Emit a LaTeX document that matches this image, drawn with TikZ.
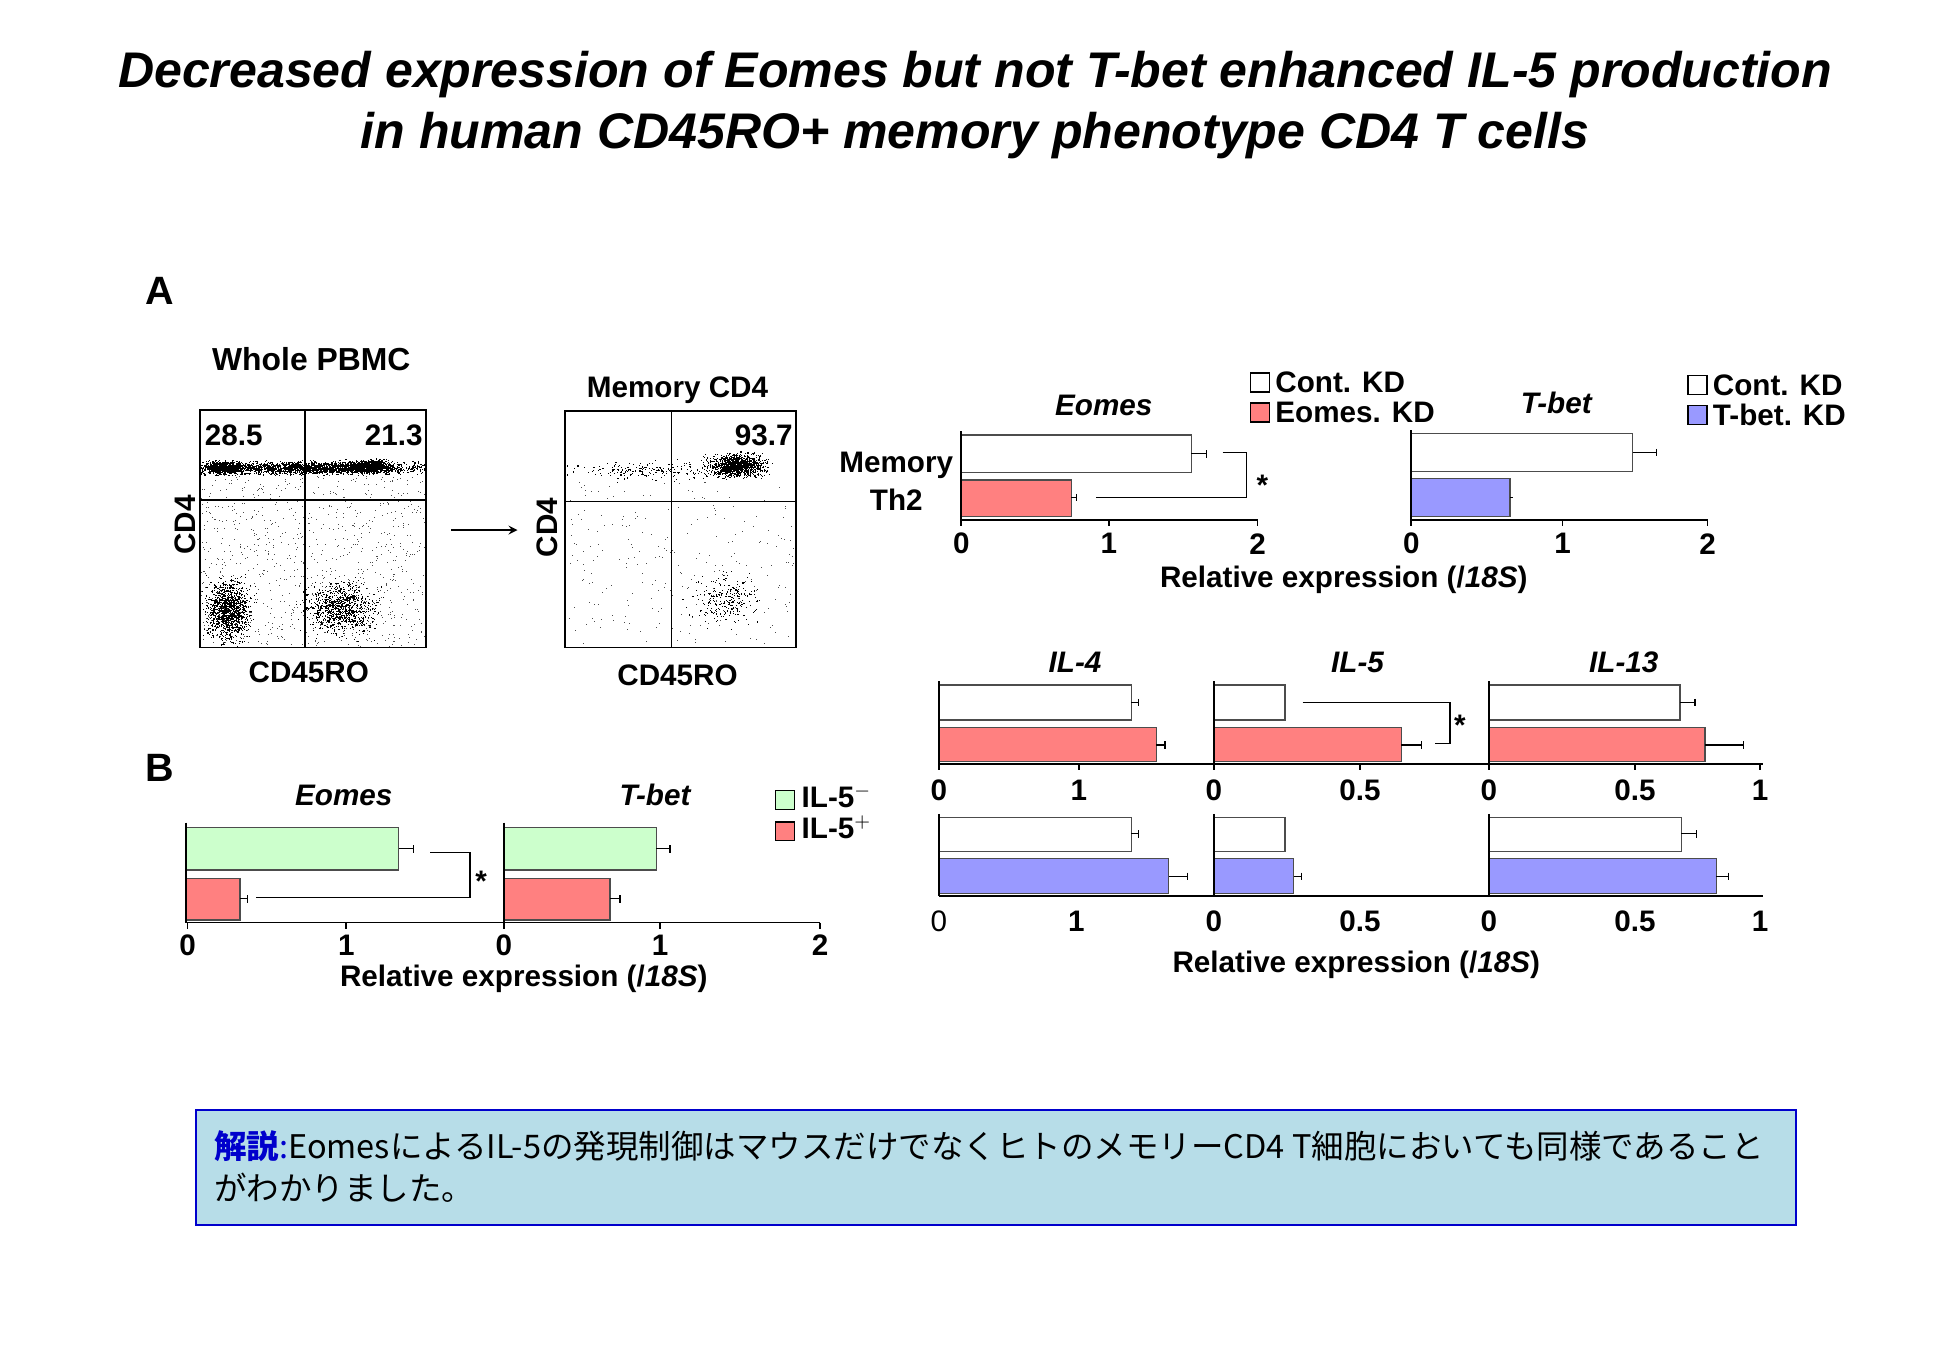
\documentclass[tikz,border=0pt]{standalone}
\usepackage{fontspec}
\setmainfont{Liberation Sans}
\newfontfamily\cjk{Noto Sans CJK JP}
\definecolor{kdred}{HTML}{FF8080}
\definecolor{kdgreen}{HTML}{CCFFCC}
\definecolor{kdblue}{HTML}{9999FF}
\definecolor{boxbg}{HTML}{B7DDE8}
\newcommand{\cloud}[5]{%
 \foreach \i in {1,...,#5}{%
  \pgfmathsetmacro{\dx}{#1+#3*(rand+rand+rand)/1.7}%
  \pgfmathsetmacro{\dy}{#2+#4*(rand+rand+rand)/1.7}%
  \fill (\dx,\dy) rectangle ++(0.9,0.9);}}
\newcommand{\unif}[5]{%
 \foreach \i in {1,...,#5}{%
  \pgfmathsetmacro{\dx}{#1+#3*rand}%
  \pgfmathsetmacro{\dy}{#2+#4*rand}%
  \fill[black!70] (\dx,\dy) rectangle ++(0.8,0.8);}}
\begin{document}
\begin{tikzpicture}[x=0.02cm,y=-0.02cm,
 lab/.style={font=\fontsize{13.5}{15}\selectfont\bfseries,inner sep=0},
 ttl/.style={font=\fontsize{13.5}{15}\selectfont\bfseries\itshape,inner sep=0},
 wbar/.style={draw=black!70,fill=white,line width=0.5pt},
 rbar/.style={draw=black!70,fill=kdred,line width=0.5pt},
 gbar/.style={draw=black!70,fill=kdgreen,line width=0.5pt},
 bbar/.style={draw=black!70,fill=kdblue,line width=0.5pt},
 ax/.style={line width=0.8pt},
 eb/.style={line width=0.5pt},
 leg/.style={draw=black,line width=0.6pt,minimum size=0.3cm,inner sep=0}]
\useasboundingbox (0,0) rectangle (1560,1080);
% title
\node[font=\fontsize{22.8}{28}\selectfont\bfseries\itshape,align=center] (title) at (780,84) {Decreased expression of Eomes but not T-bet enhanced IL-5 production\\in human CD45RO+ memory phenotype CD4 T cells};
\node[font=\fontsize{18}{20}\selectfont\bfseries] (A) at (128,233) {A};
\node[font=\fontsize{18}{20}\selectfont\bfseries] (B) at (128,614) {B};
% ---- flow plot 1
\node[lab,font=\fontsize{14.5}{16}\selectfont\bfseries] (wp) at (249,287) {Whole PBMC};
\begin{scope}
\clip (160,328) rectangle (341,518);
\pgfmathsetseed{11}
\cloud{245}{374}{80}{4}{2200}
\cloud{180}{374}{14}{4}{700}
\cloud{295}{373}{14}{4}{900}
\cloud{182}{488}{14}{18}{1300}
\cloud{272}{486}{22}{16}{900}
\unif{250}{450}{90}{70}{900}
\end{scope}
\draw[line width=0.8pt] (160,328) rectangle (341,518);
\draw[line width=0.6pt] (244,328) -- (244,518) (160,400) -- (341,400);
\node[lab,fill=white,inner sep=1pt] at (187,348) {28.5};
\node[lab,fill=white,inner sep=1pt] at (315,348) {21.3};
\node[lab,rotate=90] at (148,420) {CD4};
\node[lab] at (247,538) {CD45RO};
% ---- flow plot 2
\coordinate (ar1) at (361,424);
\coordinate (ar2) at (414,424);
\draw[-stealth,line width=0.8pt] (ar1) -- (ar2);
\node[lab] at (542,312) {Memory CD4};
\begin{scope}
\clip (452,329) rectangle (637,518);
\pgfmathsetseed{5}
\cloud{590}{372}{18}{7}{1200}
\cloud{520}{376}{50}{6}{200}
\cloud{580}{480}{22}{15}{250}
\unif{545}{450}{90}{65}{250}
\end{scope}
\draw[line width=0.8pt] (452,329) rectangle (637,518);
\draw[line width=0.6pt] (537,329) -- (537,518) (452,401) -- (637,401);
\node[lab] at (611,348) {93.7};
\node[lab,rotate=90] at (438,422) {CD4};
\node[lab] at (542,540) {CD45RO};
% ---- Eomes KD chart
\node[ttl] at (883,324) {Eomes};
\node[lab,align=center] at (717,385) {Memory\\[2pt]Th2};
\draw[wbar] (769,348) rectangle (953,378);
\draw[rbar] (769,384) rectangle (857,413);
\draw[eb] (953,363)--(965,363) (965,360)--(965,366) (857,398)--(861,398) (861,395)--(861,401);
\draw[ax] (769,345) -- (769,416) -- (1006,416);
\foreach \x/\l in {769/0,887/1,1006/2}{\draw[ax] (\x,416)--(\x,421); \node[lab] at (\x,435) {\l};}
\draw[line width=0.6pt] (978,362) -- (997,362) -- (997,398) -- (877,398);
\node[lab] at (1010,388) {*};
\node[leg] at (1008,306) {}; \node[lab,anchor=west] at (1020,306) {Cont. KD};
\node[leg,fill=kdred] at (1008,330) {}; \node[lab,anchor=west] at (1020,330) {Eomes. KD};
% ---- T-bet KD chart
\node[ttl] at (1245,322) {T-bet};
\draw[wbar] (1129,347) rectangle (1306,377);
\draw[bbar] (1129,383) rectangle (1208,413);
\draw[eb] (1306,362)--(1325,362) (1325,359)--(1325,365) (1208,398)--(1210,398);
\draw[ax] (1129,344) -- (1129,416) -- (1366,416);
\foreach \x/\l in {1129/0,1250/1,1366/2}{\draw[ax] (\x,416)--(\x,421); \node[lab] at (\x,435) {\l};}
\node[leg] at (1358,308) {}; \node[lab,anchor=west] at (1370,308) {Cont. KD};
\node[leg,fill=kdblue] at (1358,332) {}; \node[lab,anchor=west] at (1370,332) {T-bet. KD};
\node[lab] at (1075,464) {Relative expression (/\textit{18S})};
% ---- cytokine panels
\node[ttl] at (860,530) {IL-4};
\node[ttl] at (1086,530) {IL-5};
\node[ttl] at (1299,530) {IL-13};
% top row
\draw[wbar] (751,548) rectangle (905,576);
\draw[rbar] (751,582) rectangle (925,609);
\draw[eb] (905,562)--(911,562) (911,559)--(911,565) (925,596)--(932,596) (932,593)--(932,599);
\draw[wbar] (971,548) rectangle (1028,576);
\draw[rbar] (971,582) rectangle (1121,609);
\draw[eb] (1121,596)--(1137,596) (1137,593)--(1137,599);
\draw[line width=0.6pt] (1042,562) -- (1160,562) -- (1160,595) -- (1148,595);
\node[lab] at (1168,580) {*};
\draw[wbar] (1191,548) rectangle (1344,576);
\draw[rbar] (1191,582) rectangle (1364,609);
\draw[eb] (1344,562)--(1356,562) (1356,559)--(1356,565) (1364,596)--(1395,596) (1395,593)--(1395,599);
\draw[ax] (751,545)--(751,611) (971,545)--(971,611) (1191,545)--(1191,611) (751,611)--(1410,611);
\foreach \x/\l in {751/0,863/1,971/0,1088/0.5,1191/0,1308/0.5,1408/1}{\draw[ax] (\x,611)--(\x,616); \node[lab] at (\x,632) {\l};}
% bottom row
\draw[wbar] (751,654) rectangle (905,681);
\draw[bbar] (751,687) rectangle (935,715);
\draw[eb] (905,667)--(911,667) (911,664)--(911,670) (935,701)--(950,701) (950,698)--(950,704);
\draw[wbar] (971,654) rectangle (1028,681);
\draw[bbar] (971,687) rectangle (1035,715);
\draw[eb] (1035,701)--(1041,701) (1041,698)--(1041,704);
\draw[wbar] (1191,654) rectangle (1345,681);
\draw[bbar] (1191,687) rectangle (1373,715);
\draw[eb] (1345,667)--(1357,667) (1357,664)--(1357,670) (1373,701)--(1383,701) (1383,698)--(1383,704);
\draw[ax] (751,651)--(751,717) (971,651)--(971,717) (1191,651)--(1191,717) (751,717)--(1410,717);
\node[lab,font=\fontsize{13.5}{15}\selectfont] at (751,737) {0};
\foreach \x/\l in {861/1,971/0,1088/0.5,1191/0,1308/0.5,1408/1}{\node[lab] at (\x,737) {\l};}
\node[lab] at (1085,772) {Relative expression (/\textit{18S})};
% ---- B
\node[ttl] at (275,636) {Eomes};
\node[ttl] at (524,636) {T-bet};
\draw[gbar] (149,662) rectangle (319,696);
\draw[rbar] (149,703) rectangle (192,736);
\draw[eb] (319,679)--(331,679) (331,676)--(331,682) (192,719)--(198,719) (198,716)--(198,722);
\draw[line width=0.6pt] (344,682) -- (376,682) -- (376,718) -- (205,718);
\node[lab] at (385,705) {*};
\draw[gbar] (403,662) rectangle (525,696);
\draw[rbar] (403,703) rectangle (488,736);
\draw[eb] (525,679)--(536,679) (536,676)--(536,682) (488,719)--(496,719) (496,716)--(496,722);
\draw[ax] (149,658)--(149,738) (403,658)--(403,738) (149,738)--(656,738);
\foreach \x/\l in {150/0,277/1,403/0,528/1,656/2}{\draw[ax] (\x,738)--(\x,743); \node[lab] at (\x,756) {\l};}
\node[leg,fill=kdgreen] at (628,640) {}; \node[lab,anchor=west] at (641,637) {IL-5$^{-}$};
\node[leg,fill=kdred] at (628,665) {}; \node[lab,anchor=west] at (641,662) {IL-5$^{+}$};
\node[lab] at (419,783) {Relative expression (/\textit{18S})};
% ---- note box
\node[draw=blue!80!black,fill=boxbg,line width=0.8pt,minimum width=1280*0.02cm,minimum height=92*0.02cm,anchor=north west,inner sep=0] (note) at (156,887) {};
\node[anchor=north west,align=left,inner sep=0,font=\cjk\fontsize{14.8}{19}\selectfont] at (171,904) {{\color{blue!80!black}\bfseries 解説}\textcolor{blue!80!black}{:}EomesによるIL-5の発現制御はマウスだけでなくヒトのメモリーCD4 T細胞においても同様であること\\がわかりました。};
\end{tikzpicture}
\end{document}
